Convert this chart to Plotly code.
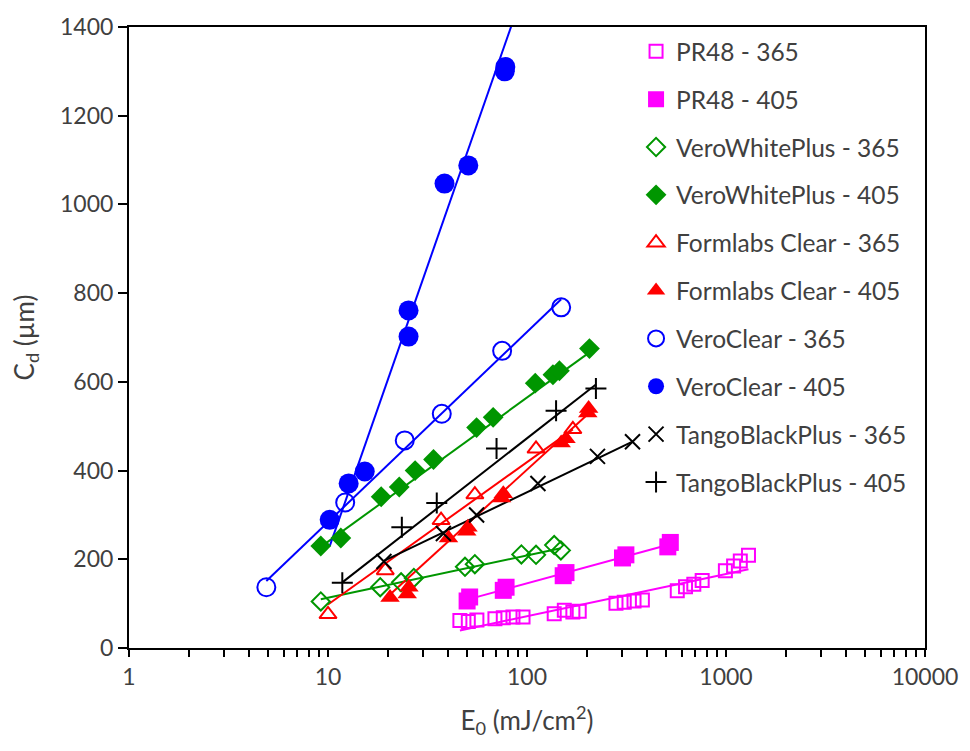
import numpy as np
import plotly.graph_objects as go

# ---- measured cure depth Cd (µm) vs. exposure dose E0 (mJ/cm²) ----
pr48_365_e = [46, 50.7, 56, 69, 76, 85, 95.5, 137, 154, 170, 183, 280, 308, 345, 380,
              569, 626, 689, 759, 993, 1092, 1180, 1297]
pr48_365_cd = [62, 60, 63, 66, 68, 70, 70, 77, 85, 81, 83, 101, 103, 106, 108,
               129, 138, 144, 152, 174, 185, 196, 209]

pr48_405_e = [50, 51.5, 76, 78.5, 152, 157, 302, 314, 510, 525]
pr48_405_cd = [106, 115, 130, 137, 163, 170, 203, 210, 228, 238]

vwp_365_e = [9.2, 18.3, 23.3, 27, 48.8, 54.7, 93.7, 111, 137, 148]
vwp_365_cd = [105, 137, 148, 158, 183, 189, 211, 210, 232, 220]

vwp_405_e = [9.2, 11.6, 18.5, 22.8, 27.4, 33.9, 55.8, 67.6, 110, 135, 145.5, 206]
vwp_405_cd = [230, 248, 341, 363, 400, 425, 497, 520, 597, 616, 625, 675]

fl_365_e = [10, 19.4, 37, 54.7, 111, 170]
fl_365_cd = [76, 175, 288, 346, 449, 493]

fl_405_e = [20.5, 25, 25.5, 40.3, 49.8, 50.5, 74.5, 76, 148.5, 157, 202, 204]
fl_405_cd = [114, 122, 137, 248, 263, 272, 338, 348, 462, 472, 530, 540]

vc_365_e = [4.9, 12.2, 24.3, 37.3, 75, 148.5]
vc_365_cd = [137, 328, 468, 528, 670, 768]

vc_405_e = [10.2, 12.7, 15.3, 25.4, 25.4, 38.5, 50.7, 77.3, 77.8]
vc_405_cd = [289, 371, 398, 702, 761, 1047, 1088, 1300, 1310]

tbp_365_e = [19.1, 38, 55.8, 113.5, 226, 339]
tbp_365_cd = [195, 258, 300, 371, 432, 465]

tbp_405_e = [11.8, 23.5, 35.2, 70.3, 140, 222]
tbp_405_cd = [147, 272, 327, 450, 535, 585]

series_names = ["PR48 - 365", "PR48 - 405", "VeroWhitePlus - 365", "VeroWhitePlus - 405",
                "Formlabs Clear - 365", "Formlabs Clear - 405", "VeroClear - 365",
                "VeroClear - 405", "TangoBlackPlus - 365", "TangoBlackPlus - 405"]

# working-curve fits  Cd = Dp * ln(E0 / Ec)
fit_dp = [41.3, 53.0, 41.3, 141.1, 139.4, 177.6, 186.3, 558.0, 93.4, 152.0]
fit_ec = [17.6, 6.38, 0.64, 1.83, 4.95, 10.4, 2.18, 6.76, 2.33, 4.46]
fit_e_lo = [46, 50, 9.2, 9.2, 10, 20.5, 4.9, 10.2, 19.1, 11.8]
fit_e_hi = [1297, 525, 148, 206, 170, 204, 148.5, 85, 339, 222]

x_tick_values = [1, 10, 100, 1000, 10000]
x_tick_labels = ["1", "10", "100", "1000", "10000"]
y_tick_values = [0, 200, 400, 600, 800, 1000, 1200, 1400]

# ---- styling ----
MAGENTA, GREEN, RED, BLUE, BLACK = "#FF00FF", "#009600", "#FF0000", "#0000FF", "#000000"
styles = [
    dict(color=MAGENTA, symbol="square-open", size=13),
    dict(color=MAGENTA, symbol="square", size=17),
    dict(color=GREEN, symbol="diamond-open", size=14),
    dict(color=GREEN, symbol="diamond", size=16),
    dict(color=RED, symbol="triangle-up-open", size=15),
    dict(color=RED, symbol="triangle-up", size=17),
    dict(color=BLUE, symbol="circle-open", size=18),
    dict(color=BLUE, symbol="circle", size=20),
    dict(color=BLACK, symbol="x-thin", size=15),
    dict(color=BLACK, symbol="cross-thin", size=15),
]

data_e = [pr48_365_e, pr48_405_e, vwp_365_e, vwp_405_e, fl_365_e, fl_405_e,
          vc_365_e, vc_405_e, tbp_365_e, tbp_405_e]
data_cd = [pr48_365_cd, pr48_405_cd, vwp_365_cd, vwp_405_cd, fl_365_cd, fl_405_cd,
           vc_365_cd, vc_405_cd, tbp_365_cd, tbp_405_cd]

FONT = "Lato, 'Liberation Sans', sans-serif"
TEXT_GREY = "#404040"

fig = go.Figure()

# fit lines first so markers sit on top
for i in range(len(series_names)):
    e_line = np.array([fit_e_lo[i], fit_e_hi[i]])
    cd_line = fit_dp[i] * np.log(e_line / fit_ec[i])
    fig.add_trace(go.Scatter(
        x=e_line, y=cd_line, mode="lines",
        line=dict(color=styles[i]["color"], width=2),
        showlegend=False, hoverinfo="skip",
    ))

for i, name in enumerate(series_names):
    st = styles[i]
    thin = st["symbol"] in ("x-thin", "cross-thin")
    marker = dict(symbol=st["symbol"], size=st["size"], color=st["color"],
                  line=dict(color=st["color"], width=2 if (thin or "open" in st["symbol"]) else 0))
    fig.add_trace(go.Scatter(
        x=data_e[i], y=data_cd[i], mode="markers", name=name,
        marker=marker, legendgroup=name, cliponaxis=False,
    ))

# minor tick marks at 2..9 within each decade
x_minor = [m * 10 ** d for d in range(4) for m in range(2, 10)]

fig.update_layout(
    width=970, height=751,
    margin=dict(l=129, r=41, t=20, b=103),
    paper_bgcolor="white", plot_bgcolor="white",
    font=dict(family=FONT, size=23, color=TEXT_GREY),
    xaxis=dict(
        type="log", range=[0, 4],
        tickmode="array", tickvals=x_tick_values, ticktext=x_tick_labels,
        ticks="outside", ticklen=7, tickwidth=2, tickcolor="black",
        minor=dict(tickmode="array", tickvals=x_minor, ticks="outside",
                   ticklen=7, tickwidth=2, tickcolor="black", showgrid=False),
        showline=True, linecolor="black", linewidth=2, mirror=True,
        showgrid=False, zeroline=False,
        tickfont=dict(size=23, color=TEXT_GREY),
        title=dict(text="E<sub>0</sub> (mJ/cm<sup>2</sup>)", font=dict(size=26, color=TEXT_GREY), standoff=23),
    ),
    yaxis=dict(
        range=[0, 1400], tickvals=y_tick_values,
        ticks="outside", ticklen=9, tickwidth=2, tickcolor="black",
        showline=True, linecolor="black", linewidth=2, mirror=True,
        showgrid=False, zeroline=False,
        tickfont=dict(size=23, color=TEXT_GREY),
        title=dict(text="C<sub>d</sub> (µm)", font=dict(size=26, color=TEXT_GREY), standoff=18),
    ),
    legend=dict(
        x=0.637, y=0.997, xanchor="left", yanchor="top",
        font=dict(size=24.5, color=TEXT_GREY),
        bgcolor="rgba(0,0,0,0)", tracegroupgap=13,
        traceorder="grouped",
    ),
)

fig.write_html("out.html")
